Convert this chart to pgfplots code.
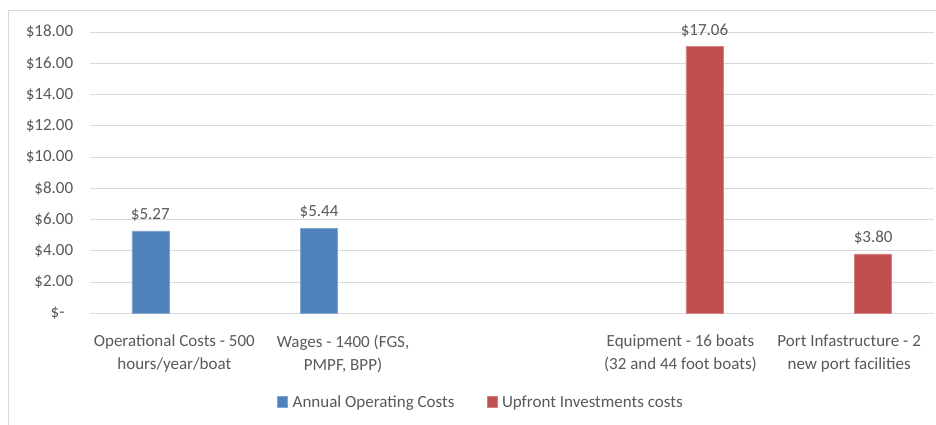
\documentclass[border=0pt]{standalone}
\usepackage{fontspec}
\setmainfont{Carlito}
\usepackage{pgfplots}
\pgfplotsset{compat=1.18}
\definecolor{blueb}{HTML}{4F81BD}
\definecolor{redb}{HTML}{C0504D}
\definecolor{gridc}{HTML}{D9D9D9}
\definecolor{txt}{HTML}{595959}
\begin{document}
\begin{tikzpicture}
\path[use as bounding box] (0pt,0pt) rectangle (936pt,424pt);
\draw[gridc, line width=1pt] (8pt,-5pt) -- (8pt,413pt) -- (945pt,413pt);
\begin{axis}[
  at={(90pt,110.7pt)}, anchor=south west,
  scale only axis, width=843.5pt, height=281.3pt,
  xmin=-0.5, xmax=4.5, ymin=0, ymax=18,
  ybar=11pt, bar width=37pt,
  clip=false,
  axis line style={draw=none},
  major tick length=0pt,
  ymajorgrids, major grid style={gridc, line width=1pt},
  ytick={0,2,...,18},
  yticklabels={\$-\phantom{0},\$2.00,\$4.00,\$6.00,\$8.00,\$10.00,\$12.00,\$14.00,\$16.00,\$18.00},
  xtick={0,1,2,3,4},
  xticklabels={{Operational Costs - 500\\hours/year/boat},{Wages - 1400 (FGS,\\PMPF, BPP)},{},{Equipment - 16 boats\\(32 and 44 foot boats)},{Port Infastructure - 2\\new port facilities}},
  ticklabel style={font=\fontsize{17}{23}\selectfont, text=txt},
  yticklabel style={anchor=east, xshift=-13.3pt},
  xticklabel style={align=center, yshift=-18pt},
  /pgf/number format/assume math mode=true,
  nodes near coords={\$\pgfmathprintnumber[fixed,fixed zerofill,precision=2]{\pgfplotspointmeta}},
  every node near coord/.append style={font=\fontsize{17}{20}\selectfont, text=txt, yshift=6pt},
  legend columns=2,
  legend style={at={(0.4635,-0.3153)}, anchor=center, draw=none, fill=none,
    font=\fontsize{17}{20}\selectfont, text=txt,
    /tikz/every even column/.append style={column sep=30pt},
    /tikz/every odd column/.append style={column sep=3pt}},
  legend image code/.code={\fill[#1] (0pt,-5.5pt) rectangle (10pt,5.5pt);},
]
\addplot[fill=blueb, draw=blueb!70!white, line width=0.5pt] coordinates {(0,5.27) (1,5.44)};
\addlegendentry{Annual Operating Costs}
\addplot[fill=redb, draw=redb!70!white, line width=0.5pt] coordinates {(3,17.06) (4,3.80)};
\addlegendentry{Upfront Investments costs}
\end{axis}
\end{tikzpicture}
\end{document}
